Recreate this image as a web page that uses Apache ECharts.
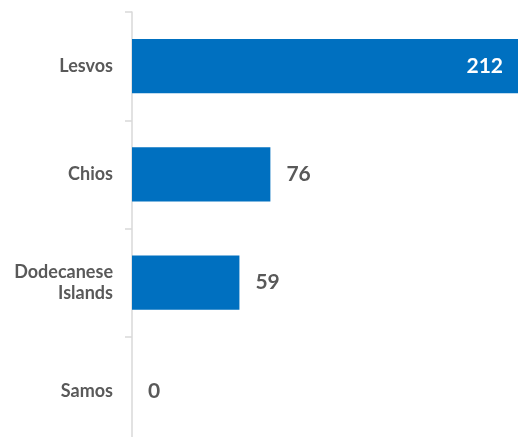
<!DOCTYPE html>
<html><head><meta charset="utf-8">
<script src="https://cdn.jsdelivr.net/npm/echarts@6/dist/echarts.min.js"></script>
<style>html,body{margin:0;padding:0;background:#fff;}#c{width:518px;height:437px;}</style>
</head><body><div id="c"></div>
<script>
const categories = ['Lesvos', 'Chios', 'Dodecanese\nIslands', 'Samos'];
const values = [212, 76, 59, 0];

const chart = echarts.init(document.getElementById('c'), null, {renderer: 'canvas'});
chart.setOption({
  animation: false,
  grid: {left: 132, right: 0, top: 12, height: 433, containLabel: false, outerBoundsMode: 'none'},
  xAxis: {type: 'value', min: 0, max: 212, show: false},
  yAxis: {
    type: 'category', data: categories, inverse: true,
    axisLine: {show: true, lineStyle: {color: '#d9d9d9', width: 1.5}},
    axisTick: {show: true, length: 7, lineStyle: {color: '#d9d9d9', width: 1.5}},
    axisLabel: {fontFamily: 'Lato', fontWeight: 'bold', fontSize: 18, color: '#595959', margin: 19, lineHeight: 21}
  },
  series: [{
    type: 'bar', barWidth: '50%',
    itemStyle: {color: '#0070c0'},
    label: {
      show: true, position: 'right', distance: 16,
      fontFamily: 'Lato', fontWeight: 'bold', fontSize: 21, color: '#595959',
      formatter: p => p.value
    },
    data: values.map((v, i) => i === 0 ? {value: v, label: {position: 'insideRight', distance: 15, color: '#ffffff'}} : v)
  }]
});
</script></body></html>
